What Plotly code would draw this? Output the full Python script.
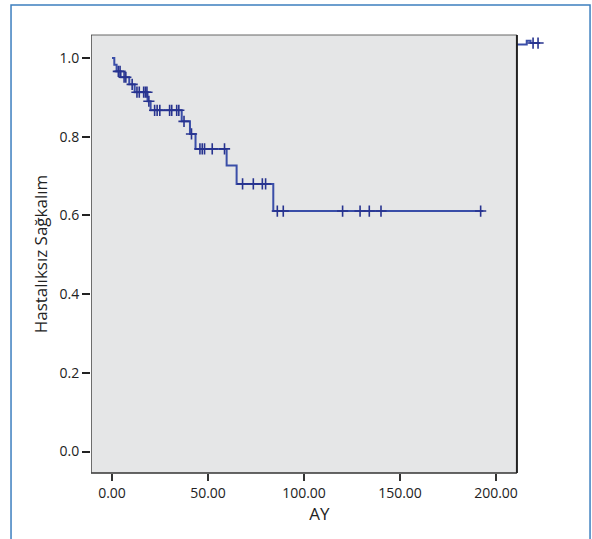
import plotly.graph_objects as go
import bisect

# Kaplan-Meier step data (time in months, survival)
event_times = [0, 1.2, 2.4, 4.5, 9.0, 11.8, 18.5, 20.1, 36.3, 40.6, 43.5, 59.7, 64.9, 84.0]
survival = [1.0, 0.983, 0.966, 0.951, 0.933, 0.913, 0.890, 0.867, 0.839, 0.807, 0.769, 0.727, 0.680, 0.611]
last_time = 193.4

censor_times = [3.3, 4.2, 6.3, 7.2, 10.5, 13.0, 14.2, 16.5, 17.4, 18.2, 19.2, 22.2, 23.5, 24.9,
                30.0, 31.1, 33.7, 34.8, 37.5, 41.4, 45.8, 47.0, 48.2, 52.2, 58.6, 68.0, 73.6,
                78.3, 80.0, 86.1, 89.2, 120.1, 129.2, 134.0, 140.1, 192.0]

# stray segment drawn outside the panel in the original
extra_x = [210.9, 216, 216, 218, 218, 223]
extra_y = [1.034, 1.034, 1.044, 1.044, 1.038, 1.038]
extra_censor_x = [219.3, 221.9]
extra_censor_y = [1.038, 1.038]

x_ticks = [0, 50, 100, 150, 200]
x_tick_labels = ["0.00", "50.00", "100.00", "150.00", "200.00"]
y_ticks = [0.0, 0.2, 0.4, 0.6, 0.8, 1.0]
y_tick_labels = ["0.0", "0.2", "0.4", "0.6", "0.8", "1.0"]

def surv_at(t):
    i = bisect.bisect_right(event_times, t) - 1
    return survival[max(i, 0)]

line_x = event_times + [last_time]
line_y = survival + [survival[-1]]
censor_y = [surv_at(t) for t in censor_times]

LINE = "#3a4ea8"
MARK = "#27338f"
FONT = "Open Sans"

X0, X1, XEXT = -10.94, 210.9, 227.08
Y0, Y1 = -0.0546, 1.0584

fig = go.Figure()
fig.add_trace(go.Scatter(x=line_x, y=line_y, mode="lines", line=dict(color=LINE, width=2, shape="hv"),
                         hoverinfo="skip", showlegend=False))
fig.add_trace(go.Scatter(x=censor_times, y=censor_y, mode="markers",
                         marker=dict(symbol="cross-thin", size=8, line=dict(color=MARK, width=1.6)),
                         showlegend=False))
fig.add_trace(go.Scatter(x=extra_x, y=extra_y, mode="lines", line=dict(color=LINE, width=2),
                         hoverinfo="skip", showlegend=False))
fig.add_trace(go.Scatter(x=extra_censor_x, y=extra_censor_y, mode="markers",
                         marker=dict(symbol="cross-thin", size=8, line=dict(color=MARK, width=1.6)),
                         showlegend=False))

shapes = [
    dict(type="rect", xref="x", yref="paper", x0=X0, x1=X1, y0=0, y1=1,
         fillcolor="#e5e6e7", line=dict(width=0), layer="below"),
    dict(type="line", xref="x", yref="paper", x0=X0, x1=X1, y0=1, y1=1,
         line=dict(color="#666666", width=1), layer="above"),
    dict(type="line", xref="x", yref="paper", x0=X0, x1=X1, y0=0, y1=0,
         line=dict(color="#333333", width=1.6), layer="above"),
    dict(type="line", xref="x", yref="paper", x0=X0, x1=X0, y0=0, y1=1,
         line=dict(color="#444444", width=1.5), layer="above"),
    dict(type="line", xref="x", yref="paper", x0=X1, x1=X1, y0=0, y1=1,
         line=dict(color="#222222", width=2), layer="above"),
    dict(type="rect", xref="paper", yref="paper", x0=-0.175, x1=1.092, y0=-0.2, y1=1.0685,
         line=dict(color="#3d7fbf", width=1.5), fillcolor="rgba(0,0,0,0)", layer="above"),
]

fig.update_layout(
    width=592, height=539,
    margin=dict(l=91, r=44, t=35, b=66),
    paper_bgcolor="white", plot_bgcolor="white",
    shapes=shapes,
    font=dict(family=FONT, color="#222222", size=14),
    xaxis=dict(range=[X0, XEXT], tickvals=x_ticks, ticktext=x_tick_labels,
               ticks="outside", ticklen=7, tickwidth=1.6, tickcolor="#333333",
               showgrid=False, zeroline=False, showline=False,
               title=dict(text="AY", font=dict(size=17, family=FONT), standoff=6),
               tickfont=dict(size=14, family=FONT)),
    yaxis=dict(range=[Y0, Y1], tickvals=y_ticks, ticktext=y_tick_labels,
               ticks="outside", ticklen=8, tickwidth=2, tickcolor="#222222",
               showgrid=False, zeroline=False, showline=False,
               title=dict(text="Hastalıksız Sağkalım", font=dict(size=17, family=FONT), standoff=7),
               tickfont=dict(size=14, family=FONT)),
)

fig.write_html("out.html", config={"displayModeBar": False},
               post_script="document.body.style.margin='0';document.body.style.padding='0';document.body.style.overflow='hidden';")
